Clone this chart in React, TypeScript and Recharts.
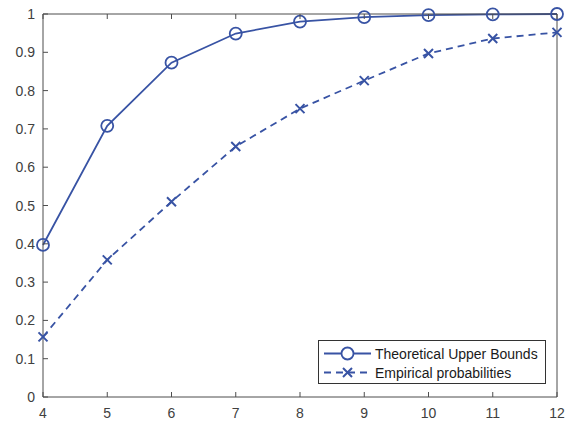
import { LineChart, Line, XAxis, YAxis } from "recharts";

const nValues = [4, 5, 6, 7, 8, 9, 10, 11, 12];
const upperBounds = [0.397, 0.708, 0.873, 0.949, 0.98, 0.992, 0.997, 0.999, 1.0];
const empirical = [0.157, 0.358, 0.51, 0.654, 0.753, 0.826, 0.897, 0.936, 0.952];
const xTicks = [4, 5, 6, 7, 8, 9, 10, 11, 12];
const yTicks = [0, 0.1, 0.2, 0.3, 0.4, 0.5, 0.6, 0.7, 0.8, 0.9, 1];

const data = nValues.map((n, i) => ({
  n,
  upper: upperBounds[i],
  empirical: empirical[i],
}));

const BLUE = "#3853a4";
const AXIS = "#4d4d4d";
const LABEL = "#404040";
const FONT = "'Liberation Sans', Arial, sans-serif";
const TICK_LEN = 5;
// recharts places tick content at tickSize (6) + tickMargin from the axis line
const X_OFF = 6 + 5;
const Y_OFF = 6 + 2;
const EDGE_OFF = 6 + 2;

// tick renderers draw MATLAB-style inward tick marks plus the label
function BottomTick(props: any) {
  const { x, y, payload } = props;
  const axisY = y - X_OFF;
  return (
    <g>
      <line x1={x} x2={x} y1={axisY} y2={axisY - TICK_LEN} stroke={AXIS} />
      <text x={x} y={y} dy="0.72em" textAnchor="middle" fill={LABEL} fontSize={14} fontFamily={FONT}>
        {payload.value}
      </text>
    </g>
  );
}

function LeftTick(props: any) {
  const { x, y, payload } = props;
  const axisX = x + Y_OFF;
  return (
    <g>
      <line x1={axisX} x2={axisX + TICK_LEN} y1={y} y2={y} stroke={AXIS} />
      <text x={x} y={y} dy="0.36em" textAnchor="end" fill={LABEL} fontSize={14} fontFamily={FONT}>
        {payload.value}
      </text>
    </g>
  );
}

function TopTick(props: any) {
  const { x, y } = props;
  const axisY = y + EDGE_OFF;
  return <line x1={x} x2={x} y1={axisY} y2={axisY + TICK_LEN} stroke={AXIS} />;
}

function RightTick(props: any) {
  const { x, y } = props;
  const axisX = x - EDGE_OFF;
  return <line x1={axisX} x2={axisX - TICK_LEN} y1={y} y2={y} stroke={AXIS} />;
}

function CircleDot(props: any) {
  const { cx, cy, index } = props;
  return (
    <circle key={`c-${index}`} cx={cx} cy={cy} r={6} fill="none" stroke={BLUE} strokeWidth={1.8} />
  );
}

function CrossDot(props: any) {
  const { cx, cy, index } = props;
  const s = 4.5;
  return (
    <path
      key={`x-${index}`}
      d={`M${cx - s},${cy - s}L${cx + s},${cy + s}M${cx - s},${cy + s}L${cx + s},${cy - s}`}
      stroke={BLUE}
      strokeWidth={2}
      fill="none"
    />
  );
}

export default function App() {
  return (
    <div style={{ position: "absolute", left: 0, top: 0, width: 568, height: 428, background: "#fff" }}>
      <LineChart
        width={568}
        height={428}
        data={data}
        margin={{ top: 4, right: 1, left: 0, bottom: 0 }}
      >
        <XAxis
          dataKey="n"
          type="number"
          domain={[4, 12]}
          ticks={xTicks}
          height={31}
          stroke={AXIS}
          tickLine={false}
          tickMargin={5}
          tick={BottomTick}
        />
        <XAxis
          xAxisId="top"
          dataKey="n"
          type="number"
          orientation="top"
          domain={[4, 12]}
          ticks={xTicks}
          height={10}
          stroke={AXIS}
          tickLine={false}
          tickMargin={2}
          tick={TopTick}
        />
        <YAxis
          type="number"
          domain={[0, 1]}
          ticks={yTicks}
          width={43}
          stroke={AXIS}
          tickLine={false}
          tickMargin={2}
          tick={LeftTick}
        />
        <YAxis
          yAxisId="right"
          type="number"
          orientation="right"
          domain={[0, 1]}
          ticks={yTicks}
          width={10}
          stroke={AXIS}
          tickLine={false}
          tickMargin={2}
          tick={RightTick}
        />
        <Line
          type="linear"
          dataKey="upper"
          stroke={BLUE}
          strokeWidth={1.8}
          dot={CircleDot}
          isAnimationActive={false}
        />
        <Line
          type="linear"
          dataKey="empirical"
          stroke={BLUE}
          strokeWidth={1.8}
          strokeDasharray="7 5"
          dot={CrossDot}
          isAnimationActive={false}
        />
      </LineChart>
      <div
        style={{
          position: "absolute",
          left: 318,
          top: 340,
          width: 228,
          height: 44,
          border: "1px solid #333",
          background: "#fff",
          fontFamily: FONT,
          fontSize: 14,
          color: "#1a1a1a",
          boxSizing: "border-box",
        }}
      >
        <div style={{ position: "absolute", left: 0, top: 3, height: 19, display: "flex", alignItems: "center" }}>
          <svg width={56} height={19}>
            <line x1={5} y1={9.5} x2={52} y2={9.5} stroke={BLUE} strokeWidth={1.8} />
            <circle cx={28.5} cy={9.5} r={6} fill="#fff" stroke={BLUE} strokeWidth={1.8} />
          </svg>
          <span style={{ whiteSpace: "nowrap" }}>Theoretical Upper Bounds</span>
        </div>
        <div style={{ position: "absolute", left: 0, top: 22, height: 19, display: "flex", alignItems: "center" }}>
          <svg width={56} height={19}>
            <line x1={5} y1={9.5} x2={52} y2={9.5} stroke={BLUE} strokeWidth={1.8} strokeDasharray="7 5" />
            <path d="M24,5L33,14M24,14L33,5" stroke={BLUE} strokeWidth={2} fill="none" />
          </svg>
          <span style={{ whiteSpace: "nowrap" }}>Empirical probabilities</span>
        </div>
      </div>
    </div>
  );
}
